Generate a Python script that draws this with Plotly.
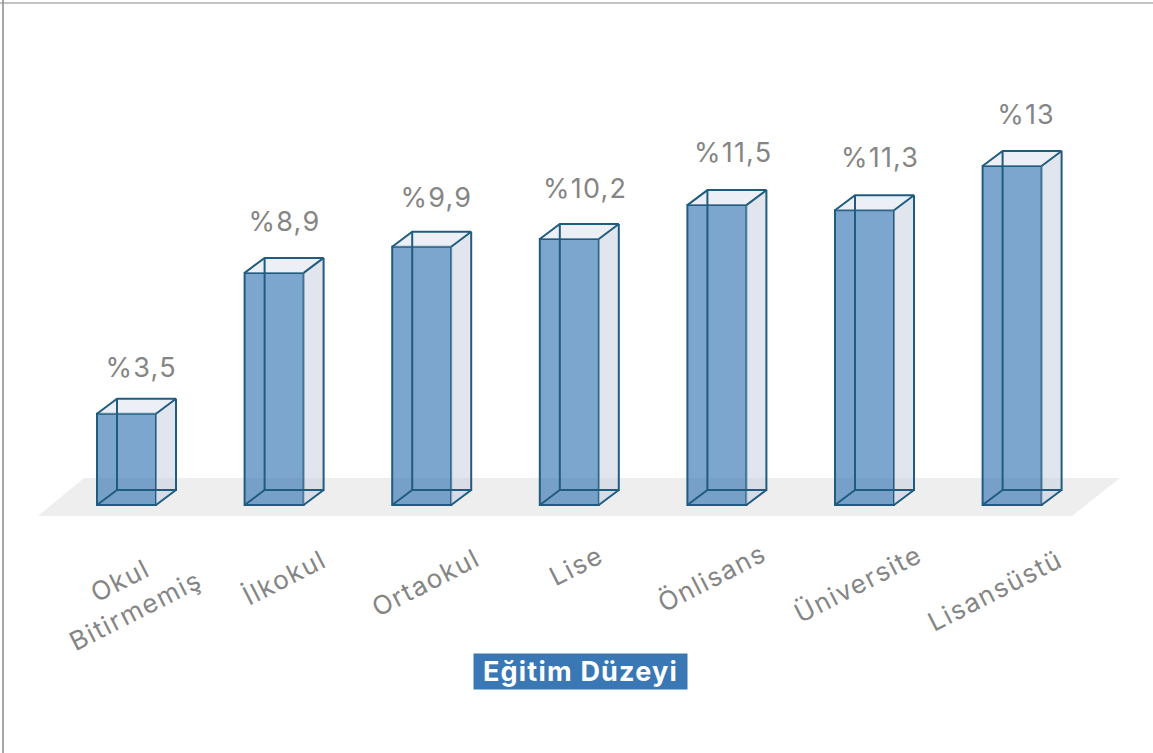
import plotly.graph_objects as go

categories = ["Okul<br>Bitirmemiş", "İlkokul", "Ortaokul", "Lise", "Önlisans", "Üniversite", "Lisansüstü"]
values = [3.5, 8.9, 9.9, 10.2, 11.5, 11.3, 13]
value_labels = ["%3,5", "%8,9", "%9,9", "%10,2", "%11,5", "%11,3", "%13"]
axis_title = "Eğitim Düzeyi"

W, H = 1153, 753
PITCH = 147.6      # px per category
X0 = 126.5         # px of first category centre
BASE = 505         # px of value 0
UNIT = 26.08       # px per value unit
BAR_W = 59 / PITCH
DX = 20 / PITCH    # depth offset
DY = 15 / UNIT

EDGE = "#205c80"
FONT = "Inter, 'Noto Sans', sans-serif"
GREY = "#858585"
VALUE_SIZE, TICK_SIZE, TITLE_SIZE = 27, 26, 27

# small per-label placement offsets, px
value_dx = [14.5, 10.5, 14.5, 15.5, 16, 15, 14]
value_dy = [46, 51, 49, 50, 53, 53, 51]
tick_dx = [1, 10, 3.5, 6.5, -5, -6.5, -17.5]
tick_dy = [90, 72, 77, 60, 72, 78, 85]

fig = go.Figure()

# front faces
fig.add_trace(go.Bar(
    x=list(range(len(values))), y=values, width=BAR_W,
    marker=dict(color="rgba(58,120,181,0.66)", line=dict(color=EDGE, width=2)),
    hoverinfo="skip", showlegend=False,
))

for i, v in enumerate(values):
    l, r = i - BAR_W / 2, i + BAR_W / 2
    # right side face
    fig.add_trace(go.Scatter(
        x=[r, r + DX, r + DX, r, r], y=[0, DY, v + DY, v, 0], mode="none",
        fill="toself", fillcolor="rgba(195,205,222,0.5)", hoverinfo="skip", showlegend=False))
    # top face
    fig.add_trace(go.Scatter(
        x=[l, r, r + DX, l + DX, l], y=[v, v, v + DY, v + DY, v], mode="none",
        fill="toself", fillcolor="rgba(210,218,232,0.42)", hoverinfo="skip", showlegend=False))
    # bottom corner beyond the front face
    fig.add_trace(go.Scatter(
        x=[r, r + DX, r, r], y=[0, DY, DY, 0], mode="none",
        fill="toself", fillcolor="rgba(210,218,232,0.35)", hoverinfo="skip", showlegend=False))
    # wire edges
    xs = [l, l + DX, r + DX, r, None, l + DX, l + DX, r + DX, r + DX, None,
          l, l + DX, r + DX, r]
    ys = [v, v + DY, v + DY, v, None, v + DY, DY, DY, v + DY, None,
          0, DY, DY, 0]
    fig.add_trace(go.Scatter(x=xs, y=ys, mode="lines", line=dict(color=EDGE, width=2),
                             hoverinfo="skip", showlegend=False))

annotations = []
for i, v in enumerate(values):
    annotations.append(dict(x=i, y=v, text=value_labels[i], showarrow=False,
                            xanchor="center", yanchor="middle",
                            xshift=value_dx[i], yshift=value_dy[i],
                            font=dict(family=FONT, size=VALUE_SIZE, color=GREY)))
    annotations.append(dict(x=i, y=0, text=categories[i], showarrow=False, textangle=-27,
                            xanchor="center", yanchor="middle",
                            xshift=tick_dx[i], yshift=-tick_dy[i],
                            font=dict(family=FONT, size=TICK_SIZE, color=GREY)))
annotations.append(dict(xref="paper", yref="paper", x=580.5 / W, y=1 - 671.5 / H, text=f"<b>{axis_title}</b>",
                        xanchor="center", yanchor="middle",
                        showarrow=False, bgcolor="#3a78b5", width=211, height=33,
                        font=dict(family=FONT, size=TITLE_SIZE, color="white")))

# floor parallelogram, in axis units
fl = (38 - X0) / PITCH
fr = (1072 - X0) / PITCH
fb = (BASE - 516) / UNIT
ft = (BASE - 478) / UNIT
floor = (f"M {fl} {fb} L {fr} {fb} L {fr + 48 / PITCH} {ft} L {fl + 46 / PITCH} {ft} Z")

shapes = [
    dict(type="path", xref="x", yref="y", path=floor, fillcolor="#eeeeee", line=dict(width=0), layer="below"),
    dict(type="line", xref="paper", yref="paper", x0=0, x1=1, y0=1 - 3 / H, y1=1 - 3 / H,
         line=dict(color="#b0b0b0", width=1.5)),
    dict(type="line", xref="paper", yref="paper", x0=3 / W, x1=3 / W, y0=0, y1=1,
         line=dict(color="#8a8a8a", width=1.5)),
]

fig.update_layout(
    width=W, height=H, margin=dict(l=0, r=0, t=0, b=0),
    paper_bgcolor="white", plot_bgcolor="rgba(0,0,0,0)",
    annotations=annotations, shapes=shapes, showlegend=False,
    xaxis=dict(range=[-X0 / PITCH, (W - X0) / PITCH], visible=False, fixedrange=True),
    yaxis=dict(range=[-(H - BASE) / UNIT, BASE / UNIT], visible=False, fixedrange=True),
)

css = (f"text.annotation-text[style*='font-size: {VALUE_SIZE}px']{{letter-spacing:1.2px}}"
       f"text.annotation-text[style*='font-size: {TICK_SIZE}px']{{letter-spacing:1.5px}}"
       f"text.annotation-text[style*='font-size: {TITLE_SIZE}px']{{letter-spacing:1.2px}}")
post = ("document.body.style.margin='0';document.body.style.overflow='hidden';"
        "var s=document.createElement('style');s.textContent=" + repr(css) + ";document.head.appendChild(s);")
fig.write_html("out.html", post_script=post, config=dict(displayModeBar=False))
